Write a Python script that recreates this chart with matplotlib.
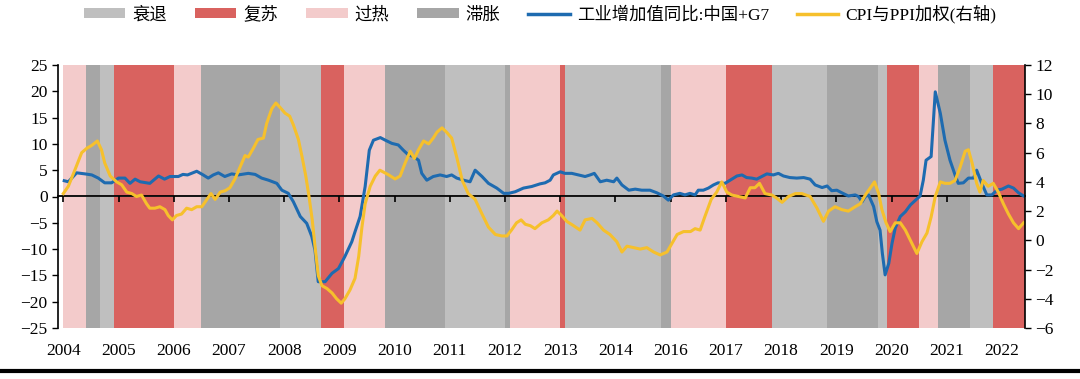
import matplotlib
matplotlib.use('Agg')
import matplotlib.pyplot as plt
from matplotlib.patches import Patch
from matplotlib.lines import Line2D

plt.rcParams['font.family'] = ['Liberation Serif', 'Noto Sans CJK SC']

# 月份序号: 0 = 2004年1月
year_ticks = list(range(0, 205, 12))
year_labels = ['2004', '2005', '2006', '2007', '2008', '2009', '2010', '2011', '2012',
               '2013', '2014', '2016', '2017', '2018', '2019', '2020', '2021', '2022']

# 经济周期阶段 (起止月份)
band_start = [0, 5, 8, 11, 24, 30, 47, 56, 61, 70, 83, 96, 97, 108, 109, 130, 132, 144,
              154, 166, 177, 179, 186, 190, 197, 202]
band_end = [5, 8, 11, 24, 30, 47, 56, 61, 70, 83, 96, 97, 108, 109, 130, 132, 144, 154,
            166, 177, 179, 186, 190, 197, 202, 209]
band_phase = ['过热', '滞胀', '衰退', '复苏', '过热', '滞胀', '衰退', '复苏', '过热', '滞胀',
              '衰退', '滞胀', '过热', '复苏', '衰退', '滞胀', '过热', '复苏', '衰退', '滞胀',
              '衰退', '复苏', '过热', '滞胀', '衰退', '复苏']

# 工业增加值同比:中国+G7 (左轴)
ind_m = [0.2, 1.1, 2.9, 4.7, 6.2, 7.6, 9.0, 10.5, 12.0, 13.4, 14.5, 15.6, 16.7, 18.8, 20.7,
         22.0, 23.2, 25.0, 26.0, 27.0, 29.0, 30.4, 31.5, 32.6, 33.7, 35.1, 36.6, 38.0, 40.2,
         41.7, 43.1, 44.6, 46.4, 47.5, 48.9, 50.0, 51.5, 52.9, 54.0, 54.7, 55.4, 56.9, 58.4,
         59.8, 61.2, 62.7, 63.4, 64.5, 65.6, 66.5, 67.4, 68.9, 70.0, 71.4, 72.8, 73.9, 75.0,
         76.1, 77.2, 77.9, 79.0, 80.4, 81.9, 83.3, 84.4, 85.5, 87.0, 88.4, 89.5, 91.0, 92.4,
         94.2, 95.7, 96.8, 98.2, 100.0, 101.8, 103.6, 104.7, 105.8, 106.5, 108.0, 109.0,
         110.5, 112.0, 113.4, 114.5, 115.4, 116.7, 118.1, 119.6, 120.3, 121.4, 122.9, 124.3,
         125.7, 127.5, 129.0, 130.4, 131.5, 132.6, 134.0, 135.1, 136.2, 137.3, 138.0, 139.1,
         140.2, 141.3, 142.3, 143.8, 144.9, 146.4, 147.5, 148.5, 149.6, 150.7, 151.8, 152.9,
         154.3, 155.4, 156.5, 157.9, 159.4, 160.9, 162.3, 163.4, 164.9, 166.0, 167.0, 168.1,
         169.2, 170.6, 172.1, 172.8, 173.6, 174.3, 175.0, 176.1, 176.8, 177.5, 178.0, 178.6,
         179.4, 180.1, 180.8, 181.9, 183.0, 184.1, 185.1, 186.2, 186.9, 187.5, 188.6, 189.5,
         190.6, 191.6, 192.7, 193.8, 194.5, 195.6, 196.7, 197.8, 198.5, 199.6, 200.7, 201.8,
         202.9, 204.0, 205.4, 206.5, 207.6, 208.7]
ind_v = [3.0, 2.8, 4.5, 4.3, 4.1, 3.5, 2.6, 2.6, 3.5, 3.5, 2.5, 3.3, 2.8, 2.5, 3.9,
         3.3, 3.8, 3.8, 4.2, 4.1, 4.8, 4.1, 3.5, 4.1, 4.5, 3.8, 4.3, 4.1, 4.4,
         4.2, 3.5, 3.1, 2.5, 1.2, 0.6, -1.0, -3.8, -5.1, -7.6, -10.2, -16.2, -16.2, -14.6,
         -13.7, -11.4, -8.6, -6.7, -3.8, 1.9, 8.8, 10.7, 11.2, 10.7, 10.1, 9.8, 8.8, 7.9,
         7.6, 6.9, 4.4, 3.1, 3.8, 4.1, 3.8, 4.1, 3.5, 3.1, 2.8, 5.0, 3.8, 2.5,
         1.6, 0.6, 0.6, 0.9, 1.6, 1.9, 2.4, 2.6, 3.1, 4.1, 4.7, 4.4,
         4.4, 4.1, 3.8, 4.1, 4.4, 2.8, 3.1, 2.8, 3.5, 2.2, 1.2, 1.4,
         1.2, 1.2, 0.7, 0.1, -0.7, 0.3, 0.6, 0.3, 0.6, 0.3, 1.2, 1.2,
         1.6, 2.2, 2.6, 2.5, 3.1, 3.9, 4.1, 3.6, 3.5, 3.3, 3.8, 4.3,
         4.1, 4.4, 3.9, 3.6, 3.5, 3.6, 3.3, 2.2, 1.7, 2.0, 1.1, 1.2,
         0.7, 0.1, 0.3, 0.0, -1.0, 0.0, 0.3, -1.9, -4.8, -6.4, -10.8, -14.9,
         -12.7, -8.9, -6.0, -3.8, -2.9, -1.6, -0.8, 0.1, 3.1, 6.9, 7.6, 19.9,
         15.8, 10.7, 6.9, 4.1, 2.5, 2.6, 3.5, 3.5, 5.0, 2.5, 0.3, 0.3,
         1.2, 1.4, 2.0, 1.6, 0.7, 0.1]

# CPI与PPI加权 (右轴)
cpi_m = [0.0, 1.1, 2.5, 4.0, 5.1, 6.2, 7.4, 8.3, 9.0, 10.2, 11.6, 12.7, 13.8, 14.9, 15.9,
         17.0, 18.1, 18.8, 19.9, 21.0, 22.1, 22.8, 23.7, 24.6, 25.7, 26.8, 27.9, 29.0, 30.1,
         31.2, 32.1, 33.0, 34.1, 35.2, 36.2, 37.3, 38.4, 39.5, 40.2, 41.3, 42.3, 43.5, 44.2,
         45.3, 46.2, 47.1, 48.2, 49.2, 50.0, 51.1, 51.9, 52.7, 53.4, 54.1, 54.7, 55.4, 56.2,
         57.3, 58.4, 59.4, 60.4, 61.2, 62.3, 63.4, 64.2, 64.9, 65.6, 66.7, 67.8, 68.8, 70.6,
         72.1, 73.2, 74.3, 75.4, 76.3, 77.2, 78.3, 79.4, 80.4, 81.2, 82.3, 83.3, 84.4, 85.5,
         86.7, 88.0, 89.5, 91.0, 92.4, 93.9, 95.3, 96.4, 97.4, 98.5, 99.5, 100.4, 101.5,
         102.5, 104.0, 105.4, 106.5, 107.3, 108.3, 109.4, 110.9, 112.3, 113.4, 114.9, 116.0,
         117.4, 118.8, 120.3, 121.4, 122.5, 124.0, 125.4, 126.8, 128.3, 129.7, 131.2, 132.3,
         133.4, 134.8, 136.3, 137.3, 138.4, 139.4, 140.8, 142.0, 143.1, 144.2, 145.3, 146.7,
         148.2, 149.3, 150.3, 151.3, 152.5, 154.0, 155.0, 156.2, 157.6, 159.1, 160.5, 162.3,
         163.8, 165.2, 166.3, 167.7, 169.2, 170.6, 172.1, 173.2, 174.3, 175.4, 176.3, 177.2,
         177.9, 178.8, 179.7, 180.8, 181.9, 183.0, 184.1, 185.5, 186.6, 187.7, 188.6, 189.5,
         190.6, 191.6, 192.7, 193.8, 194.9, 196.0, 196.7, 197.5, 198.5, 199.2, 199.9, 201.0,
         202.1, 203.2, 204.3, 205.4, 206.5, 207.6, 208.7]
cpi_v = [3.2, 3.7, 4.8, 6.0, 6.3, 6.5, 6.8, 6.2, 5.3, 4.4, 4.0, 3.8, 3.3, 3.2, 3.0,
         3.1, 2.5, 2.2, 2.2, 2.3, 2.1, 1.7, 1.4, 1.7, 1.8, 2.2, 2.1, 2.3, 2.3,
         2.8, 3.2, 2.8, 3.3, 3.4, 3.6, 4.2, 5.0, 5.8, 5.7, 6.3, 6.9, 7.0, 8.0,
         9.0, 9.4, 9.1, 8.7, 8.5, 7.9, 6.9, 5.7, 4.4, 3.0, 1.4, -0.4, -2.4, -3.1,
         -3.3, -3.6, -4.0, -4.3, -4.0, -3.4, -2.6, -1.1, 0.9, 2.5, 3.7, 4.4, 4.8, 4.5,
         4.2, 4.4, 5.3, 6.1, 5.6, 6.2, 6.8, 6.6, 7.0, 7.4, 7.7, 7.4, 7.0, 5.7,
         4.1, 3.2, 2.8, 1.8, 0.9, 0.4, 0.3, 0.3, 0.7, 1.2, 1.4, 1.1, 1.0,
         0.8, 1.2, 1.4, 1.7, 2.0, 1.7, 1.3, 1.0, 0.7, 1.4, 1.5, 1.2,
         0.7, 0.4, -0.1, -0.8, -0.4, -0.5, -0.6, -0.5, -0.8, -1.0, -0.8, -0.2,
         0.4, 0.6, 0.6, 0.8, 0.7, 1.6, 2.8, 3.3, 4.0, 3.3, 3.1, 3.0,
         2.9, 3.6, 3.6, 3.9, 3.2, 3.1, 2.9, 2.6, 3.0, 3.2, 3.2, 3.0,
         2.2, 1.3, 2.0, 2.3, 2.1, 2.0, 2.3, 2.5, 3.1, 3.6, 4.0, 3.2,
         2.1, 1.2, 0.6, 1.2, 1.2, 0.7, 0.0, -0.9, -0.1, 0.5, 1.6, 3.0,
         4.0, 3.9, 3.9, 4.1, 5.0, 6.1, 6.2, 5.3, 3.9, 3.3, 4.1, 3.7,
         3.9, 3.3, 2.5, 1.8, 1.2, 0.8, 1.2]

phase_colors = {'衰退': '#BFBFBF', '复苏': '#D9625F', '过热': '#F3CBCB', '滞胀': '#A6A6A6'}
blue = '#1E6BB0'
yellow = '#F6C02C'

fig = plt.figure(figsize=(10.8, 3.79), dpi=100)
ax = fig.add_axes([58 / 1080, 1 - 328 / 379, (1025 - 58) / 1080, (328 - 65) / 379])

for s, e, p in zip(band_start, band_end, band_phase):
    ax.axvspan(s, e, color=phase_colors[p], lw=0, zorder=0)

ax.plot(ind_m, ind_v, color=blue, lw=2.2, zorder=3)
ax.set_xlim(-1.15, 209)
ax.set_ylim(-25, 25)
ax.set_yticks(range(-25, 26, 5))
ax.set_xticks(year_ticks, year_labels)
ax.tick_params(axis='x', length=0, pad=11, labelsize=12.5)
ax.tick_params(axis='y', direction='out', length=4, width=1, labelsize=12.5)
for side in ['top', 'bottom', 'right']:
    ax.spines[side].set_visible(False)
ax.spines['left'].set_linewidth(1.2)

# 零轴和年份刻度
zero = ax.secondary_xaxis(0.5)
zero.set_xticks(year_ticks)
zero.set_xticklabels([])
zero.tick_params(direction='in', length=4, width=1.2)
zero.spines['top'].set_linewidth(1.3)

ax2 = ax.twinx()
ax2.plot(cpi_m, cpi_v, color=yellow, lw=2.2)
ax2.set_ylim(-6, 12)
ax2.set_yticks(range(-6, 13, 2))
ax2.tick_params(axis='y', direction='out', length=4, width=1, labelsize=12.5)
for side in ['top', 'bottom', 'left']:
    ax2.spines[side].set_visible(False)
ax2.spines['right'].set_linewidth(1.2)

handles = [Patch(facecolor=phase_colors[p], edgecolor='none', label=p)
           for p in ['衰退', '复苏', '过热', '滞胀']]
handles.append(Line2D([], [], color=blue, lw=2.5, label='工业增加值同比:中国+G7'))
handles.append(Line2D([], [], color=yellow, lw=2.5, label='CPI与PPI加权(右轴)'))
fig.legend(handles=handles, loc='center', bbox_to_anchor=(0.5, 1 - 14 / 379), ncol=6,
           frameon=False, fontsize=12.5, handlelength=2.4, handleheight=0.45,
           handletextpad=0.4, columnspacing=1.6)

fig.add_artist(Line2D([0, 1], [1 - 371 / 379] * 2, transform=fig.transFigure,
                      color='black', lw=3))

fig.savefig('out.png', dpi=100)
